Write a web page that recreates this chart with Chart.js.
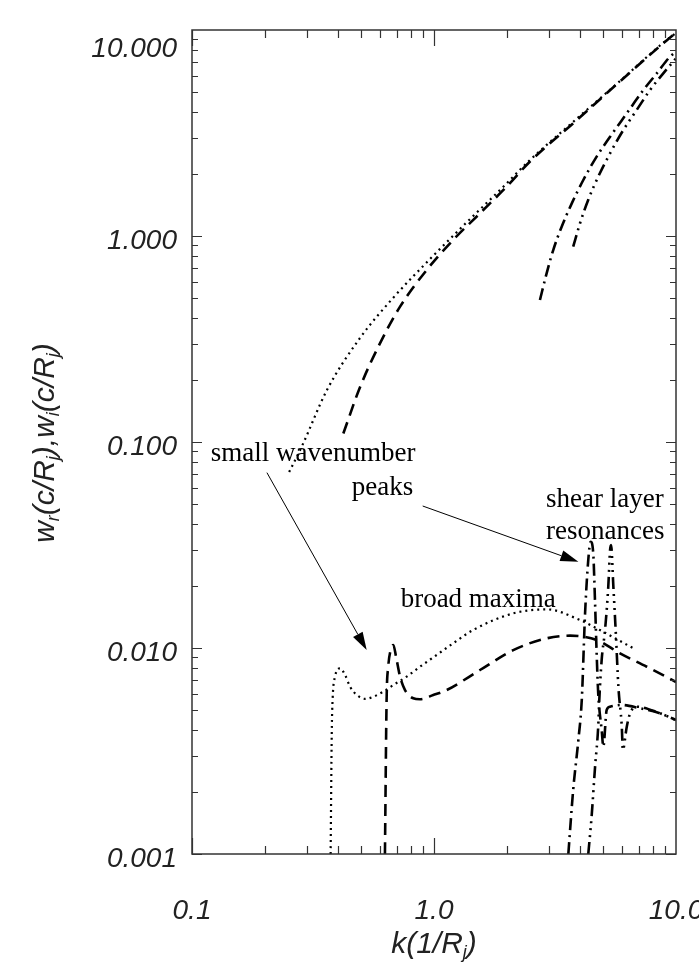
<!DOCTYPE html>
<html>
<head>
<meta charset="utf-8">
<script src="https://cdn.jsdelivr.net/npm/chart.js"></script>
<style>
  html, body { margin: 0; padding: 0; background: #fff; }
  #wrap { width: 699px; height: 963px; }
</style>
</head>
<body>
<div id="wrap"><canvas id="chartModes" width="699" height="963"></canvas></div>
<script>
// --- ticks ---
const xTickValues = [0.1, 1, 10];
const xTickLabels = ['0.1', '1.0', '10.0'];
const yTickValues = [0.001, 0.01, 0.1, 1, 10];
const yTickLabels = ['0.001', '0.010', '0.100', '1.000', '10.000'];

// --- real parts w_r (upper curves) ---
const kWr1 = [0.252, 0.2848, 0.3612, 0.4946, 0.6771, 0.9905, 1.369, 1.874, 2.493, 3.753, 5.87, 8.838, 10];
const wr1  = [0.0715, 0.0956, 0.1789, 0.3198, 0.500, 0.7997, 1.169, 1.672, 2.339, 3.576, 5.655, 8.65, 9.67];

const kWr2 = [0.422, 0.495, 0.598, 0.724, 0.933, 1.20, 1.55, 2.0, 2.493, 3.753, 5.87, 8.838, 10];
const wr2  = [0.110, 0.185, 0.301, 0.454, 0.684, 0.957, 1.29, 1.74, 2.30, 3.52, 5.63, 8.6, 9.7];

const kWr3 = [2.74, 2.92, 3.11, 3.37, 3.71, 4.14, 4.70, 5.34, 6.26, 7.33, 8.33, 9.44, 10];
const wr3  = [0.489, 0.659, 0.855, 1.11, 1.44, 1.87, 2.43, 3.03, 3.94, 5.11, 6.16, 7.42, 7.85];

const kWr4 = [3.76, 4.01, 4.34, 4.77, 5.34, 6.06, 6.88, 7.81, 8.86, 10];
const wr4  = [0.887, 1.15, 1.50, 1.94, 2.52, 3.27, 4.09, 5.11, 6.16, 7.29];

// --- imaginary parts w_i (lower curves) ---
const kWi1 = [0.374, 0.378, 0.381, 0.390, 0.409, 0.429, 0.450, 0.480, 0.519, 0.561, 0.617, 0.679, 0.771, 0.875, 1.026, 1.20, 1.453, 2.126, 2.92, 4.01, 4.85, 6.66];
const wi1  = [0.001, 0.00387, 0.0056, 0.00726, 0.00797, 0.0074, 0.00649, 0.00591, 0.00566, 0.0058, 0.00614, 0.00661, 0.00726, 0.00811, 0.00925, 0.01054, 0.01224, 0.01473, 0.0154, 0.01367, 0.01222, 0.00997];

const kWi2 = [0.627, 0.637, 0.647, 0.662, 0.679, 0.697, 0.724, 0.759, 0.821, 0.875, 0.993, 1.128, 1.549, 2.126, 2.92, 3.65, 4.70, 5.87, 7.57, 10];
const wi2  = [0.001, 0.0056, 0.00811, 0.00977, 0.01034, 0.00907, 0.00726, 0.00625, 0.0057, 0.00564, 0.00591, 0.00625, 0.00782, 0.00977, 0.01114, 0.01148, 0.01094, 0.00942, 0.00811, 0.00684];

const kWi3 = [3.59, 3.76, 3.95, 4.08, 4.21, 4.34, 4.44, 4.55, 4.63, 4.70, 4.77, 4.93, 5.01, 5.17, 5.34, 5.97, 7.10, 8.59, 10];
const wi3  = [0.001, 0.00205, 0.00358, 0.0056, 0.01474, 0.02675, 0.0328, 0.0288, 0.01648, 0.00942, 0.00603, 0.0040, 0.00332, 0.0050, 0.00519, 0.00529, 0.0051, 0.00482, 0.00447];

const kWi4 = [4.34, 4.48, 4.63, 4.77, 4.82, 4.93, 5.09, 5.25, 5.34, 5.39, 5.51, 5.65, 5.78, 5.97, 6.03, 6.26, 6.46, 6.88, 8.59, 10];
const wi4  = [0.001, 0.00152, 0.00265, 0.00415, 0.0056, 0.00875, 0.01222, 0.01985, 0.0299, 0.0316, 0.01985, 0.01135, 0.00649, 0.00415, 0.0032, 0.00415, 0.00482, 0.00519, 0.00482, 0.00447];

// --- annotations (data coordinates) ---
const noteText = ['small wavenumber', 'peaks', 'shear layer', 'resonances', 'broad maxima'];
const noteK    = [0.1195, 0.457, 2.903, 2.903, 0.728];
const noteW    = [0.0809, 0.0553, 0.0484, 0.0337, 0.01586];
const arrowFromK = [0.204, 0.898];
const arrowFromW = [0.0710, 0.0489];
const arrowToK   = [0.527, 3.95];
const arrowToW   = [0.00977, 0.0262];

const SANS = '"Liberation Sans", Arial, Helvetica, sans-serif';
const SERIF = '"Liberation Serif", "Times New Roman", serif';

const DOT = [2, 4];
const DASH = [12, 7];
const DASHDOT = [12, 5, 2, 5];
const DASH3DOT = [12, 5, 2, 5, 2, 5, 2, 5];

function series(k, w, dash, width) {
    return {
        data: k.map((v, i) => ({ x: v, y: w[i] })),
        borderColor: '#000',
        borderWidth: width,
        borderDash: dash,
        borderCapStyle: 'butt',
        pointRadius: 0,
        fill: false,
        cubicInterpolationMode: 'monotone'
    };
}

// texte avec indices (w_r, R_j ...)
function drawRich(ctx, parts, cx, cy, rot) {
    const main = 'italic 30px ' + SANS;
    const sub = 'italic 18px ' + SANS;
    ctx.save();
    ctx.translate(cx, cy);
    ctx.rotate(rot);
    ctx.fillStyle = '#222';
    ctx.textBaseline = 'alphabetic';
    let w = 0;
    parts.forEach(([t, s]) => { ctx.font = s ? sub : main; w += ctx.measureText(t).width; });
    let x = -w / 2;
    parts.forEach(([t, s]) => {
        ctx.font = s ? sub : main;
        ctx.fillText(t, x, s ? 16 : 11);
        x += ctx.measureText(t).width;
    });
    ctx.restore();
}

const framePlugin = {
    id: 'frame',
    afterDraw(chart) {
        const { ctx, chartArea: a, scales: { x, y } } = chart;
        ctx.save();
        // cadre
        ctx.strokeStyle = '#333';
        ctx.lineWidth = 1.5;
        ctx.strokeRect(a.left, a.top, a.right - a.left, a.bottom - a.top);

        // ticks internes
        ctx.lineWidth = 1.2;
        ctx.beginPath();
        [0.1, 1].forEach(d => {
            for (let m = 1; m <= 9; m++) {
                const px = Math.round(x.getPixelForValue(d * m)) + 0.5;
                const len = m === 1 ? 16 : 8;
                ctx.moveTo(px, a.bottom); ctx.lineTo(px, a.bottom - len);
                ctx.moveTo(px, a.top); ctx.lineTo(px, a.top + len);
            }
        });
        [0.001, 0.01, 0.1, 1].forEach(d => {
            for (let m = 1; m <= 9; m++) {
                const py = Math.round(y.getPixelForValue(d * m)) + 0.5;
                const len = m === 1 ? 10 : 6;
                ctx.moveTo(a.left, py); ctx.lineTo(a.left + len, py);
                ctx.moveTo(a.right, py); ctx.lineTo(a.right - len, py);
            }
        });
        ctx.stroke();

        // titres des axes
        drawRich(ctx, [['k(1/R', false], ['j', true], [')', false]], (a.left + a.right) / 2, 942, 0);
        drawRich(ctx, [['w', false], ['r', true], ['(c/R', false], ['j', true], ['),w', false], ['i', true], ['(c/R', false], ['j', true], [')', false]], 43, 443, -Math.PI / 2);

        // annotations
        ctx.fillStyle = '#000';
        ctx.font = '27px ' + SERIF;
        ctx.textBaseline = 'alphabetic';
        ctx.textAlign = 'left';
        noteText.forEach((t, i) => {
            ctx.fillText(t, x.getPixelForValue(noteK[i]), y.getPixelForValue(noteW[i]));
        });

        // flèches
        ctx.strokeStyle = '#000';
        ctx.lineWidth = 1;
        arrowFromK.forEach((k0, i) => {
            const x0 = x.getPixelForValue(k0), y0 = y.getPixelForValue(arrowFromW[i]);
            const x1 = x.getPixelForValue(arrowToK[i]), y1 = y.getPixelForValue(arrowToW[i]);
            const ang = Math.atan2(y1 - y0, x1 - x0);
            const hl = 18, hw = 5.5;
            const bx = x1 - hl * Math.cos(ang), by = y1 - hl * Math.sin(ang);
            ctx.beginPath();
            ctx.moveTo(x0, y0); ctx.lineTo(bx, by);
            ctx.stroke();
            ctx.beginPath();
            ctx.moveTo(x1, y1);
            ctx.lineTo(bx + hw * Math.sin(ang), by - hw * Math.cos(ang));
            ctx.lineTo(bx - hw * Math.sin(ang), by + hw * Math.cos(ang));
            ctx.closePath();
            ctx.fill();
        });
        ctx.restore();
    }
};

new Chart(document.getElementById('chartModes'), {
    type: 'line',
    data: {
        datasets: [
            series(kWr1, wr1, DOT, 2.2),
            series(kWr2, wr2, DASH, 2.6),
            series(kWr3, wr3, DASHDOT, 2.6),
            series(kWr4, wr4, DASH3DOT, 2.6),
            series(kWi1, wi1, DOT, 2.2),
            series(kWi2, wi2, DASH, 2.6),
            series(kWi3, wi3, DASHDOT, 2.6),
            series(kWi4, wi4, DASH3DOT, 2.6)
        ]
    },
    options: {
        responsive: false,
        animation: false,
        events: [],
        layout: { padding: { top: 30, right: 23, left: 0, bottom: 0 } },
        plugins: {
            legend: { display: false },
            tooltip: { enabled: false }
        },
        scales: {
            x: {
                type: 'logarithmic',
                position: 'bottom',
                min: 0.1,
                max: 10,
                grid: { display: false, drawTicks: false },
                border: { display: false },
                afterBuildTicks: s => { s.ticks = xTickValues.map(v => ({ value: v })); },
                afterFit: s => { s.height = 109; s.paddingLeft = 0; s.paddingRight = 0; },
                ticks: {
                    autoSkip: false,
                    maxRotation: 0,
                    padding: 40,
                    color: '#222',
                    font: { family: SANS, size: 28, style: 'italic' },
                    callback: (v, i) => xTickLabels[i]
                }
            },
            y: {
                type: 'logarithmic',
                position: 'left',
                min: 0.001,
                max: 10,
                grid: { display: false, drawTicks: false },
                border: { display: false },
                afterBuildTicks: s => { s.ticks = yTickValues.map(v => ({ value: v })); },
                afterFit: s => { s.width = 192; s.paddingTop = 0; s.paddingBottom = 0; },
                ticks: {
                    autoSkip: false,
                    padding: 15,
                    labelOffset: 5,
                    color: '#222',
                    font: { family: SANS, size: 28, style: 'italic', lineHeight: 1.0 },
                    // le libellé du haut est décalé vers le bas comme dans l'original
                    callback: (v, i) => i === yTickLabels.length - 1 ? ['', yTickLabels[i]] : yTickLabels[i]
                }
            }
        }
    },
    plugins: [framePlugin]
});
</script>
</body>
</html>
